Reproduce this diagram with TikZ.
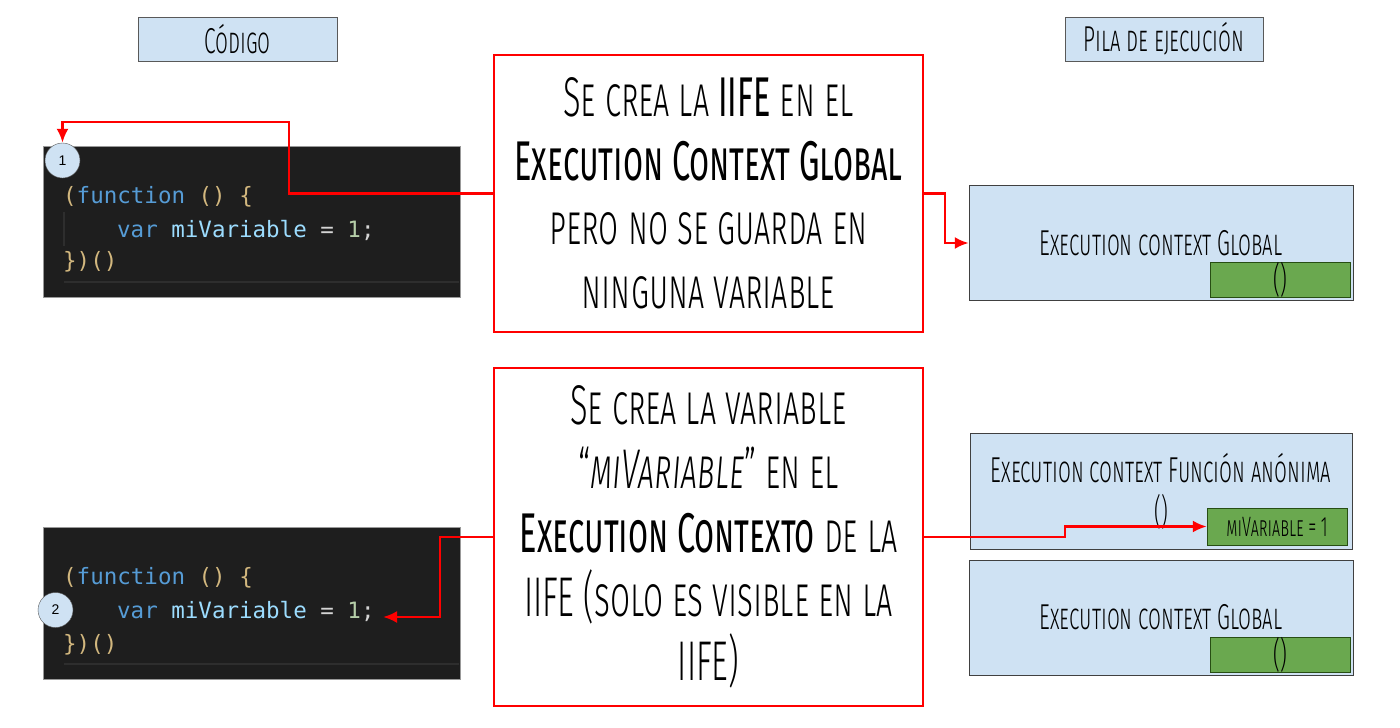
\documentclass[tikz,border=0pt]{standalone}
\usepackage{fontspec}
\usetikzlibrary{arrows.meta}
\newfontfamily\hand{Fira Sans Light}[FakeStretch=0.58,Letters=SmallCaps,BoldFont={Fira Sans},ItalicFont={Fira Sans Light Italic}]
\newfontfamily\codefont{DejaVu Sans Mono}
\newfontfamily\numfont{Liberation Sans}
\definecolor{paleblue}{HTML}{CFE2F3}
\definecolor{okgreen}{HTML}{6AA84F}
\definecolor{darkgreen}{HTML}{274E13}
\definecolor{editor}{HTML}{1E1E1E}
\definecolor{guide}{HTML}{2E2E2E}
\definecolor{kw}{HTML}{569CD6}
\definecolor{ident}{HTML}{9CDCFE}
\definecolor{brk}{HTML}{D2B77E}
\definecolor{op}{HTML}{D4D4D4}
\definecolor{num}{HTML}{B5CEA8}
\begin{document}
\begin{tikzpicture}[x=1pt,y=-1pt,
  hdr/.style={draw=black!65,fill=paleblue,minimum width=199pt,minimum height=44pt,inner sep=0pt,font=\hand\fontsize{36}{40}\selectfont},
  panel/.style={draw=black!40,fill=editor,minimum width=417pt,inner sep=0pt},
  code/.style={anchor=west,inner sep=0pt,font=\codefont\fontsize{22.5}{26}\selectfont},
  marker/.style={circle,draw=black!65,fill=paleblue,minimum size=35pt,inner sep=0pt,font=\numfont\fontsize{14}{16}\selectfont},
  msg/.style={draw=red,line width=2pt,fill=white,minimum width=429pt,inner sep=0pt,align=center,font=\hand\fontsize{56}{64}\selectfont},
  ctx/.style={draw=black!75,fill=paleblue,minimum width=384pt,minimum height=115pt,inner sep=0pt,align=center,font=\hand\fontsize{36}{42}\selectfont},
  slot/.style={draw=darkgreen,fill=okgreen,minimum width=140pt,minimum height=35pt,inner sep=0pt,font=\hand\fontsize{36}{40}\selectfont},
  link/.style={draw=red,line width=2.6pt,-{Latex[length=14pt,width=12pt]}}]
  \useasboundingbox (0,0) rectangle (1400,728);

  \node[hdr] (hcode) at (237.5,39) {Código};
  \node[hdr,minimum width=198pt] (hstack) at (1164,39) {Pila de ejecución};

  \node[panel,minimum height=151pt] (p1) at (251.5,221.5) {};
  \draw[guide,line width=1.5pt] (64,282) -- (459,282);
  \draw[guide,line width=1.5pt] (64,212) -- (64,246);
  \node[code] (c11) at (63,197) {\color{brk}(\color{kw}function \color{brk}() \{};
  \node[code] (c12) at (117,230) {\color{kw}var \color{ident}miVariable \color{op}= \color{num}1\color{op};};
  \node[code] (c13) at (63,262) {\color{brk}\})()};
  \node[marker] (n1) at (62.5,160.5) {1};

  \node[panel,minimum height=152pt] (p2) at (251.5,603) {};
  \draw[guide,line width=1.5pt] (64,664) -- (459,664);
  \node[code] (c21) at (63,578) {\color{brk}(\color{kw}function \color{brk}() \{};
  \node[code] (c22) at (117,611) {\color{kw}var \color{ident}miVariable \color{op}= \color{num}1\color{op};};
  \node[code] (c23) at (63,645) {\color{brk}\})()};
  \node[marker] (n2) at (55.5,610) {2};

  \node[msg,minimum height=277pt] (m1) at (708.5,193.5) {Se crea la \textbf{IIFE} en el\\\textbf{Execution Context Global}\\pero no se guarda en\\ninguna variable};
  \node[msg,minimum height=338pt] (m2) at (708.5,537) {Se crea la variable\\“\textit{miVariable}” en el\\\textbf{Execution Contexto} de la\\IIFE (solo es visible en la\\IIFE)};

  \node[ctx] (g1) at (1161,243) {Execution context Global};
  \node[slot] (s1) at (1280,280) {()};
  \node[ctx,minimum width=382pt,minimum height=116pt] (g2) at (1161,491) {Execution context Función anónima\\()};
  \node[slot,minimum height=37pt,font=\hand\fontsize{28}{32}\selectfont] (s2) at (1277,526.5) {miVariable = 1};
  \node[ctx] (g3) at (1161,617.5) {Execution context Global};
  \node[slot] (s3) at (1280,655) {()};

  \coordinate (k1) at (289,122);
  \coordinate (k2) at (945,220);
  \coordinate (k3) at (440,580);
  \coordinate (k4) at (1065,530);
  \coordinate (semi) at (383,617);
  \draw[link] (m1.west) -| (k1) -| (n1.north);
  \draw[link] (m1.east) -| (k2) |- (g1.west);
  \draw[link] (m2.west) -| (k3) |- (semi);
  \draw[link] (m2.east) -| (k4) |- (s2.west);
\end{tikzpicture}
\end{document}
